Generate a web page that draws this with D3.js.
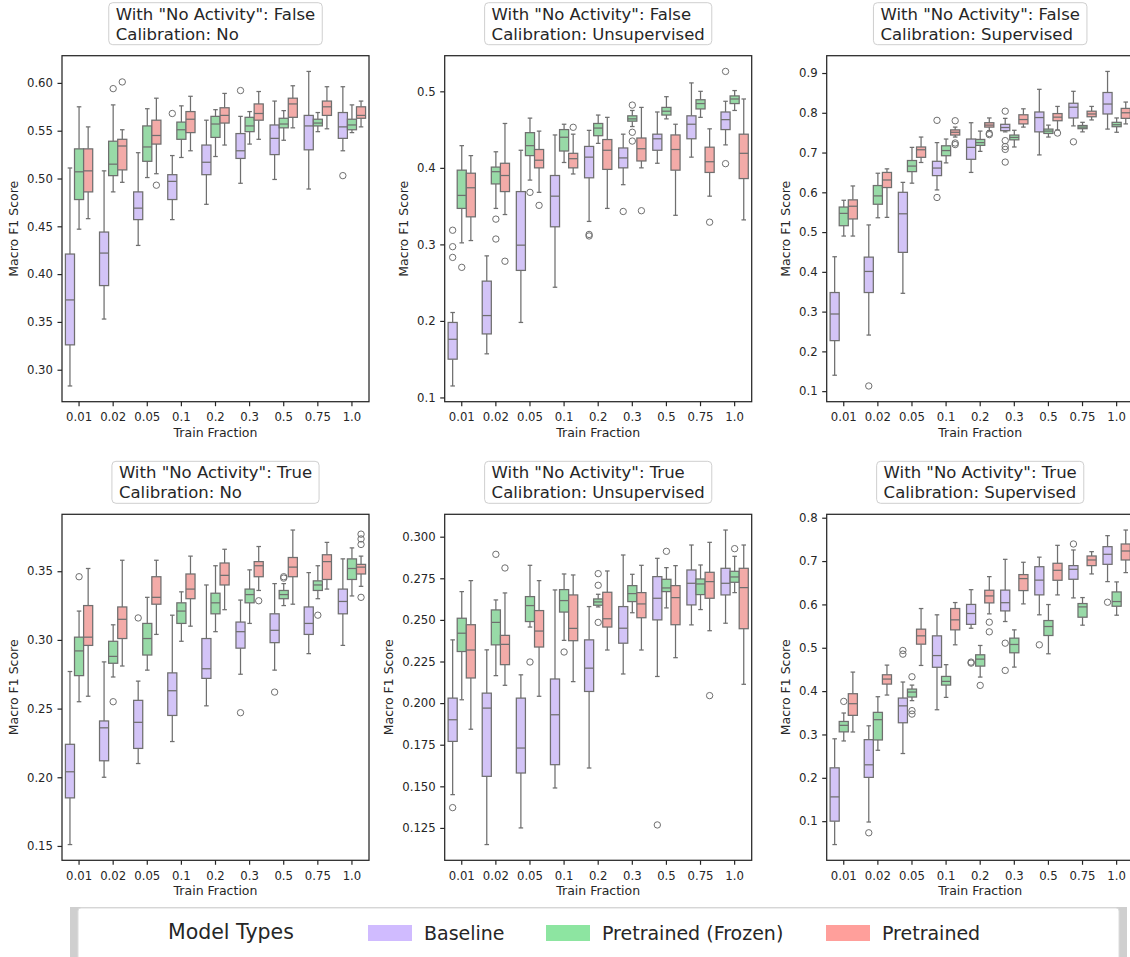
<!DOCTYPE html>
<html>
<head>
<meta charset="utf-8">
<script src="https://cdn.jsdelivr.net/npm/d3@7"></script>
<style>
  body { margin: 0; background: #fff; }
  svg { display: block; font-family: "DejaVu Sans", sans-serif; }
</style>
</head>
<body>
<svg id="chart" width="1130" height="957"></svg>
<script>
// categories
var fractions = ["0.01", "0.02", "0.05", "0.1", "0.2", "0.3", "0.5", "0.75", "1.0"];
var models = ["Baseline", "Pretrained (Frozen)", "Pretrained"];
var palette = ["#d0bbff", "#8de5a1", "#ff9f9b"]; // seaborn pastel
var rowTitles = ['With "No Activity": False', 'With "No Activity": True'];
var calibrations = ["No", "Unsupervised", "Supervised"];

// each box: [lower whisker, q1, median, q3, upper whisker], one per train fraction
// outliers: [fraction index, model index, value]

// No Activity False / Calibration No
var fNoBase = [[0.283,0.326,0.373,0.421,0.511],[0.353,0.388,0.422,0.444,0.508],[0.430,0.457,0.469,0.486,0.527],[0.457,0.478,0.497,0.504,0.524],[0.473,0.504,0.517,0.535,0.561],[0.495,0.521,0.529,0.547,0.565],[0.499,0.525,0.542,0.556,0.581],[0.489,0.530,0.555,0.566,0.612],[0.529,0.542,0.554,0.569,0.596]];
var fNoFrozen = [[0.447,0.478,0.507,0.531,0.575],[0.486,0.503,0.515,0.539,0.577],[0.501,0.518,0.533,0.555,0.573],[0.522,0.541,0.551,0.559,0.576],[0.523,0.543,0.557,0.565,0.572],[0.536,0.549,0.555,0.564,0.570],[0.540,0.553,0.557,0.563,0.571],[0.549,0.555,0.558,0.562,0.569],[0.548,0.551,0.556,0.562,0.577]];
var fNoPre = [[0.458,0.486,0.508,0.531,0.554],[0.496,0.509,0.534,0.541,0.551],[0.505,0.536,0.545,0.561,0.584],[0.529,0.548,0.562,0.570,0.586],[0.535,0.558,0.566,0.574,0.589],[0.541,0.561,0.568,0.578,0.591],[0.553,0.564,0.578,0.584,0.597],[0.552,0.566,0.575,0.581,0.596],[0.554,0.563,0.566,0.575,0.581]];
var fNoOut = [[1,1,0.594],[1,2,0.601],[2,2,0.493],[3,0,0.568],[5,0,0.592],[8,0,0.503]];
var fNoTicks = ["0.30","0.35","0.40","0.45","0.50","0.55","0.60"];

// No Activity False / Calibration Unsupervised
var fUnsBase = [[0.115,0.150,0.176,0.198,0.211],[0.157,0.183,0.207,0.252,0.285],[0.198,0.266,0.299,0.369,0.423],[0.244,0.323,0.363,0.390,0.443],[0.330,0.387,0.414,0.428,0.449],[0.378,0.400,0.413,0.426,0.444],[0.406,0.423,0.438,0.444,0.473],[0.414,0.438,0.457,0.468,0.511],[0.430,0.450,0.463,0.473,0.487]];
var fUnsFrozen = [[0.302,0.347,0.364,0.397,0.429],[0.347,0.379,0.395,0.401,0.421],[0.384,0.416,0.429,0.446,0.465],[0.407,0.422,0.440,0.450,0.457],[0.432,0.442,0.452,0.458,0.469],[0.454,0.461,0.464,0.468,0.475],[0.464,0.469,0.474,0.479,0.493],[0.466,0.477,0.484,0.489,0.500],[0.475,0.484,0.490,0.494,0.501]];
var fUnsPre = [[0.305,0.336,0.374,0.393,0.416],[0.339,0.369,0.390,0.406,0.458],[0.368,0.400,0.410,0.424,0.448],[0.392,0.400,0.412,0.419,0.444],[0.347,0.398,0.423,0.437,0.466],[0.400,0.409,0.425,0.439,0.479],[0.338,0.397,0.424,0.443,0.457],[0.363,0.394,0.408,0.427,0.451],[0.332,0.386,0.419,0.444,0.490]];
var fUnsOut = [[0,0,0.3185],[0,0,0.297],[0,0,0.283],[0,1,0.270],[1,1,0.333],[1,1,0.307],[1,2,0.278],[2,1,0.368],[2,2,0.351],[3,2,0.453],[4,0,0.313],[4,0,0.311],[5,0,0.343],[5,1,0.482],[5,1,0.4465],[5,1,0.435],[5,2,0.344],[7,2,0.329],[8,0,0.526],[8,0,0.4055]];
var fUnsTicks = ["0.1","0.2","0.3","0.4","0.5"];

// No Activity False / Calibration Supervised
var fSupBase = [[0.140,0.227,0.294,0.348,0.438],[0.241,0.348,0.401,0.437,0.518],[0.346,0.449,0.546,0.600,0.625],[0.606,0.642,0.661,0.678,0.725],[0.650,0.683,0.713,0.734,0.775],[0.752,0.755,0.763,0.771,0.786],[0.694,0.752,0.788,0.802,0.859],[0.767,0.787,0.814,0.824,0.854],[0.759,0.797,0.822,0.851,0.904]];
var fSupFrozen = [[0.490,0.516,0.547,0.563,0.580],[0.536,0.570,0.591,0.617,0.648],[0.623,0.652,0.666,0.680,0.713],[0.674,0.692,0.705,0.717,0.734],[0.703,0.718,0.725,0.733,0.754],[0.714,0.732,0.738,0.744,0.756],[0.739,0.748,0.754,0.759,0.769],[0.752,0.760,0.764,0.768,0.776],[0.751,0.765,0.770,0.776,0.787]];
var fSupPre = [[0.490,0.533,0.565,0.581,0.616],[0.537,0.612,0.631,0.650,0.659],[0.675,0.688,0.707,0.714,0.739],[0.739,0.744,0.751,0.757,0.764],[0.755,0.764,0.769,0.775,0.787],[0.764,0.772,0.783,0.795,0.810],[0.757,0.780,0.789,0.798,0.816],[0.782,0.790,0.797,0.804,0.816],[0.772,0.786,0.800,0.811,0.827]];
var fSupOut = [[1,0,0.113],[3,0,0.781],[3,0,0.587],[3,2,0.780],[3,2,0.724],[3,2,0.720],[4,2,0.748],[4,2,0.745],[5,0,0.804],[5,0,0.730],[5,0,0.715],[5,0,0.708],[5,0,0.676],[6,2,0.749],[7,0,0.727]];
var fSupTicks = ["0.1","0.2","0.3","0.4","0.5","0.6","0.7","0.8","0.9"];

// No Activity True / Calibration No
var tNoBase = [[0.151,0.185,0.204,0.224,0.277],[0.200,0.212,0.236,0.241,0.284],[0.210,0.221,0.240,0.256,0.270],[0.226,0.245,0.263,0.276,0.318],[0.252,0.272,0.279,0.301,0.340],[0.275,0.294,0.306,0.313,0.329],[0.278,0.298,0.307,0.319,0.341],[0.290,0.304,0.312,0.324,0.349],[0.296,0.319,0.328,0.337,0.359]];
var tNoFrozen = [[0.255,0.274,0.292,0.302,0.321],[0.273,0.283,0.288,0.299,0.311],[0.278,0.289,0.301,0.312,0.331],[0.299,0.312,0.321,0.327,0.335],[0.306,0.319,0.327,0.334,0.354],[0.312,0.327,0.333,0.337,0.351],[0.325,0.330,0.333,0.336,0.341],[0.330,0.336,0.340,0.343,0.354],[0.332,0.344,0.352,0.359,0.367]];
var tNoPre = [[0.259,0.296,0.302,0.325,0.352],[0.281,0.301,0.315,0.324,0.358],[0.304,0.326,0.331,0.346,0.358],[0.310,0.330,0.337,0.348,0.361],[0.322,0.340,0.347,0.356,0.366],[0.336,0.346,0.354,0.357,0.368],[0.326,0.346,0.353,0.360,0.380],[0.337,0.344,0.357,0.362,0.371],[0.339,0.348,0.353,0.355,0.361]];
var tNoOut = [[0,1,0.346],[1,1,0.255],[2,0,0.316],[5,0,0.247],[5,2,0.3285],[6,0,0.262],[6,1,0.346],[6,1,0.345],[7,1,0.318],[8,2,0.377],[8,2,0.3735],[8,2,0.3695],[8,2,0.331]];
var tNoTicks = ["0.15","0.20","0.25","0.30","0.35"];

// No Activity True / Calibration Unsupervised
var tUnsBase = [[0.145,0.177,0.190,0.203,0.238],[0.115,0.156,0.197,0.206,0.232],[0.125,0.158,0.173,0.203,0.217],[0.149,0.163,0.193,0.2145,0.268],[0.161,0.207,0.221,0.238,0.258],[0.2175,0.236,0.245,0.258,0.289],[0.216,0.250,0.263,0.276,0.287],[0.247,0.259,0.272,0.280,0.295],[0.248,0.265,0.272,0.281,0.304]];
var tUnsFrozen = [[0.202,0.231,0.242,0.251,0.267],[0.2165,0.235,0.2485,0.256,0.262],[0.2457,0.249,0.2586,0.264,0.2828],[0.2377,0.2547,0.2616,0.2682,0.2776],[0.2578,0.2588,0.2608,0.2626,0.2654],[0.2543,0.261,0.2658,0.2706,0.2774],[0.2572,0.267,0.2692,0.2744,0.2814],[0.2562,0.2652,0.2716,0.2746,0.283],[0.2664,0.2726,0.2758,0.2792,0.2882]];
var tUnsPre = [[0.1843,0.2151,0.2319,0.2471,0.2736],[0.2107,0.2231,0.2353,0.2407,0.2662],[0.2041,0.2337,0.2433,0.2556,0.2736],[0.2129,0.2375,0.2449,0.265,0.277],[0.2319,0.2457,0.2507,0.2666,0.2794],[0.2319,0.2513,0.2596,0.2664,0.2828],[0.2273,0.2471,0.2634,0.2706,0.2826],[0.2435,0.263,0.273,0.2786,0.2966],[0.2113,0.2447,0.2694,0.281,0.295]];
var tUnsOut = [[0,0,0.1372],[1,1,0.2894],[1,2,0.2812],[2,1,0.2247],[3,1,0.2307],[4,1,0.2778],[4,1,0.2708],[4,1,0.2485],[6,0,0.1268],[6,1,0.2912],[7,2,0.2045],[8,1,0.2928]];
var tUnsTicks = ["0.125","0.150","0.175","0.200","0.225","0.250","0.275","0.300"];

// No Activity True / Calibration Supervised
var tSupBase = [[0.046,0.100,0.156,0.223,0.290],[0.098,0.201,0.230,0.288,0.320],[0.256,0.327,0.366,0.384,0.421],[0.357,0.455,0.482,0.5275,0.576],[0.545,0.554,0.579,0.600,0.634],[0.5605,0.585,0.604,0.633,0.704],[0.576,0.622,0.656,0.687,0.709],[0.615,0.658,0.681,0.6895,0.7256],[0.6526,0.6925,0.7156,0.7332,0.7586]];
var tSupFrozen = [[0.285,0.306,0.321,0.330,0.3495],[0.2635,0.2873,0.3341,0.351,0.3871],[0.378,0.3863,0.3978,0.4047,0.4139],[0.3855,0.4139,0.4224,0.4339,0.461],[0.4324,0.4577,0.4738,0.4838,0.5053],[0.4554,0.4884,0.5076,0.5222,0.5413],[0.4861,0.5283,0.549,0.5628,0.5997],[0.5521,0.5705,0.5943,0.602,0.6158],[0.5751,0.5958,0.6066,0.6288,0.6519]];
var tSupPre = [[0.3057,0.3441,0.371,0.394,0.4439],[0.3909,0.4162,0.4278,0.4377,0.46],[0.4592,0.5083,0.5275,0.5429,0.5905],[0.5068,0.5413,0.5644,0.5905,0.6043],[0.5782,0.6035,0.6196,0.6327,0.6641],[0.6012,0.6319,0.6596,0.6688,0.6972],[0.6219,0.6557,0.6787,0.6949,0.7363],[0.6703,0.6895,0.7025,0.7117,0.7217],[0.6734,0.7025,0.7232,0.7394,0.7716]];
var tSupOut = [[0,1,0.3763],[1,0,0.0732],[2,0,0.4938],[2,0,0.4853],[2,1,0.4331],[2,1,0.355],[2,1,0.347],[4,0,0.4669],[4,0,0.4646],[4,1,0.4132],[4,2,0.559],[4,2,0.5367],[5,0,0.5106],[5,0,0.4477],[6,0,0.5068],[7,0,0.7394],[8,0,0.605]];
var tSupTicks = ["0.1","0.2","0.3","0.4","0.5","0.6","0.7","0.8"];

var panels = [
  {row: 0, col: 0, boxes: [fNoBase, fNoFrozen, fNoPre], out: fNoOut, ticks: fNoTicks},
  {row: 0, col: 1, boxes: [fUnsBase, fUnsFrozen, fUnsPre], out: fUnsOut, ticks: fUnsTicks},
  {row: 0, col: 2, boxes: [fSupBase, fSupFrozen, fSupPre], out: fSupOut, ticks: fSupTicks},
  {row: 1, col: 0, boxes: [tNoBase, tNoFrozen, tNoPre], out: tNoOut, ticks: tNoTicks},
  {row: 1, col: 1, boxes: [tUnsBase, tUnsFrozen, tUnsPre], out: tUnsOut, ticks: tUnsTicks},
  {row: 1, col: 2, boxes: [tSupBase, tSupFrozen, tSupPre], out: tSupOut, ticks: tSupTicks}
];

var svg = d3.select("#chart");
var lefts = [62, 444.7, 826.7];
var tops = [55.7, 514.3];
var pw = 307, ph = 346;
var lineColor = "#6f6f6f";
var ink = "#262626";

// seaborn draws the boxes with saturation 0.75
var desat = function(c){
  var h = d3.hsl(c);
  h.s = h.s * 0.75;
  return h.formatHex();
};
var boxColors = palette.map(desat);

panels.forEach(function(p){
  var g = svg.append("g").attr("transform", "translate(" + lefts[p.col] + "," + tops[p.row] + ")");

  // y range from the data, with matplotlib's 5% margin
  var vals = [];
  p.boxes.forEach(function(s){ s.forEach(function(b){ vals.push(b[0], b[4]); }); });
  p.out.forEach(function(o){ vals.push(o[2]); });
  var lo = d3.min(vals), hi = d3.max(vals), m = (hi - lo) * 0.05;

  var x = d3.scaleBand().domain(fractions).range([0, pw]);
  var y = d3.scaleLinear().domain([lo - m, hi + m]).range([ph, 0]);
  var bw = x.bandwidth() * 0.8 / 3;

  var xAxis = g.append("g").attr("transform", "translate(0," + ph + ")")
    .call(d3.axisBottom(x).tickSize(4.5).tickPadding(6.5));
  var yAxis = g.append("g")
    .call(d3.axisLeft(y).tickValues(p.ticks.map(Number)).tickFormat(function(d, i){ return p.ticks[i]; })
      .tickSize(4.5).tickPadding(4.5));
  [xAxis, yAxis].forEach(function(a){
    a.select(".domain").remove();
    a.selectAll("line").attr("stroke", ink).attr("stroke-width", 1.2);
    a.selectAll("text").attr("fill", ink).style("font-size", "11.7px").style("font-family", "DejaVu Sans");
  });

  // boxes
  p.boxes.forEach(function(series, k){
    series.forEach(function(b, i){
      var cx = x(fractions[i]) + x.bandwidth() / 2 + (k - 1) * bw;
      var bg = g.append("g");
      bg.append("line").attr("x1", cx).attr("x2", cx).attr("y1", y(b[3])).attr("y2", y(b[4]));
      bg.append("line").attr("x1", cx).attr("x2", cx).attr("y1", y(b[1])).attr("y2", y(b[0]));
      bg.append("line").attr("x1", cx - bw / 4).attr("x2", cx + bw / 4).attr("y1", y(b[4])).attr("y2", y(b[4]));
      bg.append("line").attr("x1", cx - bw / 4).attr("x2", cx + bw / 4).attr("y1", y(b[0])).attr("y2", y(b[0]));
      bg.append("rect").attr("x", cx - bw / 2).attr("width", bw)
        .attr("y", y(b[3])).attr("height", y(b[1]) - y(b[3]))
        .attr("fill", boxColors[k]);
      bg.append("line").attr("x1", cx - bw / 2).attr("x2", cx + bw / 2).attr("y1", y(b[2])).attr("y2", y(b[2]));
      bg.selectAll("line, rect").attr("stroke", lineColor).attr("stroke-width", 1.25);
    });
  });

  // outliers
  g.selectAll("circle.flier").data(p.out).enter().append("circle")
    .attr("class", "flier")
    .attr("cx", function(o){ return x(fractions[o[0]]) + x.bandwidth() / 2 + (o[1] - 1) * bw; })
    .attr("cy", function(o){ return y(o[2]); })
    .attr("r", 3.2).attr("fill", "none").attr("stroke", lineColor).attr("stroke-width", 1);

  // frame
  g.append("rect").attr("width", pw).attr("height", ph)
    .attr("fill", "none").attr("stroke", ink).attr("stroke-width", 1.25);

  // axis labels
  g.append("text").attr("x", pw / 2).attr("y", ph + 35).attr("text-anchor", "middle")
    .attr("fill", ink).style("font-size", "12.5px").text("Train Fraction");
  var minX = d3.min(yAxis.selectAll("text").nodes(), function(n){ return n.getBBox().x; }) - 4.5;
  g.append("text").attr("transform", "translate(" + (minX - 4.5) + "," + (ph / 2) + ") rotate(-90)")
    .attr("text-anchor", "middle").attr("fill", ink).style("font-size", "12.5px").text("Macro F1 Score");

  // title with rounded box
  var tg = g.append("g");
  var box = tg.append("rect");
  var t = tg.append("text").attr("fill", ink).style("font-size", "16.5px");
  var l1 = t.append("tspan").attr("y", -36).text(rowTitles[p.row]);
  var l2 = t.append("tspan").attr("y", -16).text("Calibration: " + calibrations[p.col]);
  var tw = Math.max(l1.node().getComputedTextLength(), l2.node().getComputedTextLength());
  var tx = pw / 2 - tw / 2;
  l1.attr("x", tx); l2.attr("x", tx);
  box.attr("x", tx - 7).attr("y", -53).attr("width", tw + 14).attr("height", 42)
    .attr("rx", 4).attr("fill", "#fff").attr("stroke", "#cfcfcf").attr("stroke-width", 1);
});

// legend
var lg = svg.append("g");
lg.append("rect").attr("x", 70).attr("y", 907).attr("width", 1057).attr("height", 60).attr("fill", "#cfcfcf");
lg.append("rect").attr("x", 78).attr("y", 908).attr("width", 1041).attr("height", 60)
  .attr("rx", 3).attr("fill", "#fff").attr("stroke", "#dcdcdc").attr("stroke-width", 1);
lg.append("text").attr("x", 168).attr("y", 939).attr("fill", ink).style("font-size", "20.5px").text("Model Types");
var itemX = [368, 546, 826];
models.forEach(function(m, k){
  lg.append("rect").attr("x", itemX[k]).attr("y", 925).attr("width", 44).attr("height", 16).attr("fill", palette[k]);
  lg.append("text").attr("x", itemX[k] + 56).attr("y", 940).attr("fill", ink).style("font-size", "19px").text(m);
});
</script>
</body>
</html>
